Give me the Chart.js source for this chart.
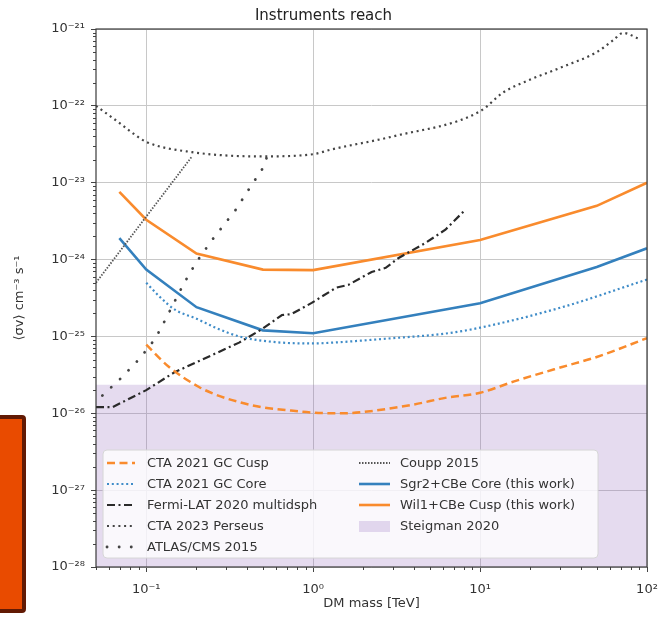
<!DOCTYPE html>
<html>
<head>
<meta charset="utf-8">
<script src="https://cdn.jsdelivr.net/npm/chart.js@4"></script>
<style>
  html, body { margin: 0; padding: 0; background: #fff; }
  #wrap { position: relative; width: 664px; height: 618px; overflow: hidden; }
  #tag {
    position: absolute; left: -4px; top: 415px; width: 30px; height: 198px;
    box-sizing: border-box; background: #e94b00; border: 4px solid #621a04; border-radius: 4px;
  }
</style>
</head>
<body>
<div id="wrap">
  <canvas id="reach" width="664" height="618"></canvas>
  <div id="tag"></div>
</div>
<script>
/* values: DM mass [TeV] vs <sigma v> [cm^3 s^-1] */
const cuspMass = [0.1, 0.137, 0.207, 0.26, 0.36, 0.49, 0.69, 1, 1.5, 2, 4, 6.3, 10, 16, 31, 50, 100];
const cuspSv = [7.8e-26, 4e-26, 2.2e-26, 1.75e-26, 1.4e-26, 1.2e-26, 1.1e-26, 1.02e-26, 1.0e-26, 1.04e-26, 1.3e-26, 1.6e-26, 1.85e-26, 2.6e-26, 4e-26, 5.4e-26, 9.5e-26];

const coreMass = [0.1, 0.12, 0.15, 0.2, 0.26, 0.36, 0.57, 1, 1.3, 3, 6, 10, 31, 100];
const coreSv = [5e-25, 3.3e-25, 2.2e-25, 1.7e-25, 1.3e-25, 1.0e-25, 8.5e-26, 8.1e-26, 8.3e-26, 9.5e-26, 1.08e-25, 1.3e-25, 2.4e-25, 5.5e-25];

const fermiMass = [0.05, 0.0627, 0.1, 0.147, 0.36, 0.49, 0.65, 0.74, 0.98, 1.37, 1.63, 2.24, 2.72, 3.25, 4.72, 6.2, 8.2];
const fermiSv = [1.2e-26, 1.2e-26, 2.0e-26, 3.4e-26, 8.3e-26, 1.23e-25, 1.9e-25, 1.95e-25, 2.73e-25, 4.3e-25, 4.7e-25, 6.9e-25, 7.8e-25, 1.05e-24, 1.65e-24, 2.45e-24, 4.5e-24];

const perseusMass = [0.05, 0.069, 0.082, 0.1, 0.188, 0.48, 1, 1.28, 3, 10, 13.8, 20, 31, 50, 63, 72, 88];
const perseusSv = [1e-22, 6e-23, 4.5e-23, 3.4e-23, 2.5e-23, 2.2e-23, 2.35e-23, 2.7e-23, 4e-23, 8.5e-23, 1.5e-22, 2.2e-22, 3.2e-22, 5e-22, 7.2e-22, 8.9e-22, 7.6e-22];

const atlasMass = [0.0546, 0.071, 0.091, 0.113, 0.123, 0.169, 0.2, 0.248, 0.345, 0.41, 0.5, 0.53];
const atlasSv = [1.7e-26, 2.9e-26, 5.1e-26, 9.3e-26, 1.3e-25, 5e-25, 9.3e-25, 1.8e-24, 4.5e-24, 8.1e-24, 1.55e-23, 2.2e-23];

const couppMass = [0.05, 0.188];
const couppSv = [5e-25, 2.2e-23];

const sgr2Mass = [0.069, 0.1, 0.2, 0.5, 1, 10, 50, 100];
const sgr2Sv = [1.9e-24, 7.4e-25, 2.4e-25, 1.2e-25, 1.1e-25, 2.7e-25, 8e-25, 1.4e-24];

const wil1Mass = [0.069, 0.1, 0.2, 0.5, 1, 10, 50, 100];
const wil1Sv = [7.6e-24, 3.3e-24, 1.2e-24, 7.4e-25, 7.3e-25, 1.8e-24, 5e-24, 1e-23];

const steigmanMass = [0.05, 100];
const steigmanSv = [2.35e-26, 2.35e-26];

const xTicks = [0.1, 1, 10, 100];
const xTickLabels = ['10⁻¹', '10⁰', '10¹', '10²'];
const yTicks = [1e-28, 1e-27, 1e-26, 1e-25, 1e-24, 1e-23, 1e-22, 1e-21];
const yTickLabels = ['10⁻²⁸', '10⁻²⁷', '10⁻²⁶', '10⁻²⁵', '10⁻²⁴', '10⁻²³', '10⁻²²', '10⁻²¹'];

const pts = (xs, ys) => xs.map((x, i) => ({ x, y: ys[i] }));
const FONT = 'DejaVu Sans';

function line(label, xs, ys, color, width, dash, extra) {
  return Object.assign({
    label, data: pts(xs, ys), borderColor: color, borderWidth: width,
    borderDash: dash, pointRadius: 0, tension: 0, fill: false, order: 0,
  }, extra || {});
}

const datasets = [
  line('CTA 2021 GC Cusp', cuspMass, cuspSv, '#f98b2d', 2.5, [8, 4.5], { cubicInterpolationMode: 'monotone' }),
  line('CTA 2021 GC Core', coreMass, coreSv, '#3f8cc8', 2.2, [2, 2.8], { cubicInterpolationMode: 'monotone' }),
  line('Fermi-LAT 2020 multidsph', fermiMass, fermiSv, '#2a2a2a', 2.2, [8, 3.5, 2, 3.5]),
  line('CTA 2023 Perseus', perseusMass, perseusSv, '#444444', 2.2, [2, 3.7], { cubicInterpolationMode: 'monotone' }),
  line('ATLAS/CMS 2015', atlasMass, atlasSv, '#444444', 2.8, [0.1, 12], { borderCapStyle: 'round' }),
  line('Coupp 2015', couppMass, couppSv, '#555555', 1.8, [1.5, 1.5]),
  line('Sgr2+CBe Core (this work)', sgr2Mass, sgr2Sv, '#3480bd', 2.6, []),
  line('Wil1+CBe Cusp (this work)', wil1Mass, wil1Sv, '#f98b2d', 2.6, []),
  line('Steigman 2020', steigmanMass, steigmanSv, 'rgba(0,0,0,0)', 0, [],
    { fill: 'start', backgroundColor: 'rgba(148,103,189,0.24)', order: 10, isPatch: true }),
];

/* spines, minor ticks and the in-axes legend */
const decor = {
  id: 'decor',
  afterDatasetsDraw(chart) {
    const { ctx, chartArea: ca, scales: { x, y } } = chart;
    ctx.save();
    ctx.strokeStyle = '#444';
    ctx.lineWidth = 1;
    ctx.beginPath();
    for (let e = -28; e < -21; e++) {
      for (let k = 2; k <= 9; k++) {
        const py = Math.round(y.getPixelForValue(k * 10 ** e)) + 0.5;
        ctx.moveTo(ca.left - 3, py); ctx.lineTo(ca.left, py);
      }
    }
    for (let e = -2; e < 2; e++) {
      for (let k = 2; k <= 9; k++) {
        const v = k * 10 ** e;
        if (v < x.min || v > x.max) continue;
        const px = Math.round(x.getPixelForValue(v)) + 0.5;
        ctx.moveTo(px, ca.bottom); ctx.lineTo(px, ca.bottom + 3);
      }
    }
    ctx.stroke();
    ctx.strokeStyle = '#3a3a3a';
    ctx.lineWidth = 1.2;
    ctx.strokeRect(ca.left, ca.top, ca.right - ca.left, ca.bottom - ca.top);
    ctx.restore();
  },
  afterDraw(chart) {
    const { ctx, chartArea: ca } = chart;
    const bx = ca.left + 7, by = ca.bottom - 117, bw = 495, bh = 108;
    ctx.save();
    ctx.beginPath();
    ctx.roundRect(bx, by, bw, bh, 4);
    ctx.fillStyle = 'rgba(255,255,255,0.8)';
    ctx.fill();
    ctx.strokeStyle = '#d6d6d6';
    ctx.lineWidth = 1;
    ctx.stroke();
    ctx.font = '13px "' + FONT + '"';
    ctx.textBaseline = 'middle';
    ctx.fillStyle = '#333';
    chart.data.datasets.forEach((ds, i) => {
      const col = i < 5 ? 0 : 1, row = i < 5 ? i : i - 5;
      const hx = bx + (col ? 256 : 4), tx = bx + (col ? 297 : 44);
      const cy = by + 13 + row * 21;
      if (ds.isPatch) {
        ctx.fillStyle = ds.backgroundColor;
        ctx.fillRect(hx, cy - 5, 31, 11);
      } else {
        ctx.beginPath();
        ctx.setLineDash(ds.borderDash);
        ctx.lineCap = ds.borderCapStyle || 'butt';
        ctx.strokeStyle = ds.borderColor;
        ctx.lineWidth = ds.borderWidth;
        ctx.moveTo(hx, cy); ctx.lineTo(hx + (col ? 31 : 28), cy);
        ctx.stroke();
        ctx.setLineDash([]);
      }
      ctx.fillStyle = '#333';
      ctx.fillText(ds.label, tx, cy + 1);
    });
    ctx.restore();
  },
};

const tickFont = { family: FONT, size: 13 };

new Chart(document.getElementById('reach'), {
  type: 'line',
  data: { datasets },
  plugins: [decor],
  options: {
    responsive: false,
    animation: false,
    layout: { padding: { left: 0, right: 17, top: 0, bottom: 0 } },
    plugins: {
      legend: { display: false },
      tooltip: { enabled: false },
      title: {
        display: true, text: 'Instruments reach', color: '#222',
        font: { family: FONT, size: 15, weight: 'normal' },
        padding: { top: 7, bottom: 4 },
      },
    },
    scales: {
      x: {
        type: 'logarithmic', min: 0.05, max: 100,
        afterBuildTicks: s => { s.ticks = xTicks.map(value => ({ value, major: true })); },
        afterFit: s => { s.height = 51; s.paddingLeft = 0; s.paddingRight = 0; },
        ticks: {
          color: '#333', font: tickFont, padding: 10, autoSkip: false, maxRotation: 0,
          callback: (v, i) => xTickLabels[i],
        },
        grid: { color: '#c8c8c8', lineWidth: 1, tickColor: '#444', tickLength: 5 },
        border: { display: false },
        title: {
          display: true, text: 'DM mass [TeV]', color: '#333',
          font: { family: FONT, size: 13 }, padding: { top: 0, bottom: 7 },
        },
      },
      y: {
        type: 'logarithmic', min: 1e-28, max: 1e-21,
        afterBuildTicks: s => { s.ticks = yTicks.map(value => ({ value, major: true })); },
        afterFit: s => { s.width = 96; s.paddingTop = 0; s.paddingBottom = 0; },
        ticks: {
          color: '#333', font: tickFont, padding: 6, autoSkip: false,
          callback: (v, i) => yTickLabels[i],
        },
        grid: { color: '#c8c8c8', lineWidth: 1, tickColor: '#444', tickLength: 5 },
        border: { display: false },
        title: {
          display: true, text: '⟨σv⟩ cm⁻³ s⁻¹', color: '#333',
          font: { family: FONT, size: 13 }, padding: { top: 12, bottom: 0 },
        },
      },
    },
  },
});
</script>
</body>
</html>
